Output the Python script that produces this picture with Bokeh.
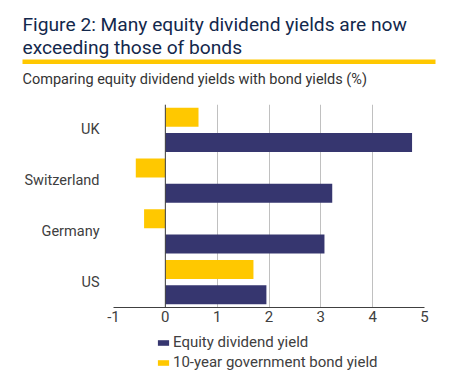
from bokeh.plotting import figure
from bokeh.layouts import column
from bokeh.models import (ColumnDataSource, Range1d, FactorRange, Span, Legend, LegendItem)
from bokeh.transform import dodge
from bokeh.core.properties import value
from bokeh.embed import file_html
from bokeh.resources import INLINE

countries = ["UK", "Switzerland", "Germany", "US"]
equity_yield = [4.76, 3.22, 3.07, 1.95]
bond_yield = [0.64, -0.57, -0.41, 1.70]
x_ticks = [-1, 0, 1, 2, 3, 4, 5]

title_lines = ["Figure 2: Many equity dividend yields are now", "exceeding those of bonds"]
subtitle = "Comparing equity dividend yields with bond yields (%)"
series_names = ["Equity dividend yield", "10-year government bond yield"]

NAVY = "#36366f"
YELLOW = "#FFC800"
TITLE_C = "#13284c"
TEXT_C = "#404040"
FONT = "Roboto"

W = 445
HEAD_H = 96
MAIN_H = 236
FOOT_H = 50


def no_align(fig):
    try:
        fig.frame_align = False
    except Exception:
        pass


def bare(fig):
    fig.axis.visible = False
    fig.grid.visible = False
    fig.outline_line_color = None


# ---- header: title, yellow rule, subtitle ----
head = figure(width=W, height=HEAD_H, x_range=Range1d(0, W), y_range=Range1d(HEAD_H, 0),
              output_backend="svg", toolbar_location=None, min_border=0)
bare(head)
no_align(head)
head.text(x=[22, 22], y=[23.5, 46.5], text=title_lines, text_font=value(FONT),
          text_font_size="19.2px", text_color=TITLE_C, text_baseline="alphabetic")
head.quad(left=[22], right=[435], top=[59], bottom=[63.5], fill_color=YELLOW, line_color=None)
head.text(x=[22], y=[79], text=[subtitle], text_font=value(FONT),
          text_font_size="14.5px", text_color="#333333", text_baseline="alphabetic")

# ---- main chart ----
src = ColumnDataSource(dict(country=countries, equity=equity_yield, bond=bond_yield))

p = figure(width=W, height=MAIN_H, x_range=Range1d(-1, 5),
           y_range=FactorRange(*countries[::-1]),
           output_backend="svg", toolbar_location=None,
           min_border_left=113, min_border_right=21, min_border_top=8, min_border_bottom=25)
p.outline_line_color = None
no_align(p)

r_eq = p.hbar(y=dodge("country", -0.25, range=p.y_range), right="equity", left=0, height=0.375,
              source=src, fill_color=NAVY, line_color=None)
r_bd = p.hbar(y=dodge("country", 0.25, range=p.y_range), right="bond", left=0, height=0.375,
              source=src, fill_color=YELLOW, line_color=None)

p.xgrid.grid_line_color = "#c0c0c0"
p.ygrid.grid_line_color = None
p.xaxis.ticker = x_ticks
p.xaxis.major_label_overrides = {-1: "-1"}
p.xaxis.axis_line_color = TEXT_C
p.xaxis.major_tick_line_color = None
p.xaxis.minor_tick_line_color = None
p.xaxis.major_tick_out = 0
p.xaxis.major_label_standoff = 3
p.xaxis.major_label_text_font = FONT
p.xaxis.major_label_text_font_size = "15px"
p.xaxis.major_label_text_color = TEXT_C

p.yaxis.axis_line_color = None
p.yaxis.major_tick_line_color = None
p.yaxis.minor_tick_line_color = None
p.yaxis.major_tick_out = 0
p.yaxis.major_label_standoff = 14
p.yaxis.major_label_text_font = FONT
p.yaxis.major_label_text_font_size = "14.5px"
p.yaxis.major_label_text_color = TEXT_C

p.add_layout(Span(location=0, dimension="height", line_color=TEXT_C, line_width=1))

# ---- footer: legend (zero-size swatch renderers, outside the visible range) ----
foot = figure(width=W, height=FOOT_H, x_range=Range1d(0, 1), y_range=Range1d(0, 1),
              output_backend="svg", toolbar_location=None, min_border=0)
bare(foot)
no_align(foot)
leg_src = ColumnDataSource(dict(y=[-5.0], left=[-5.0], right=[-5.0]))
k_eq = foot.hbar(y="y", left="left", right="right", height=0.1, source=leg_src,
                 fill_color=NAVY, line_color=None)
k_bd = foot.hbar(y="y", left="left", right="right", height=0.1, source=leg_src,
                 fill_color=YELLOW, line_color=None)
legend = Legend(items=[LegendItem(label=series_names[0], renderers=[k_eq]),
                       LegendItem(label=series_names[1], renderers=[k_bd])],
                location=(156, 10), orientation="vertical", margin=0, padding=0,
                spacing=0, glyph_width=14, glyph_height=7, label_height=20,
                label_standoff=3, label_text_font=FONT, label_text_font_size="15px",
                label_text_color=TEXT_C, border_line_color=None, background_fill_alpha=0)
foot.add_layout(legend)

layout = column(head, p, foot, spacing=0)
open("out.html", "w").write(file_html(layout, INLINE))
